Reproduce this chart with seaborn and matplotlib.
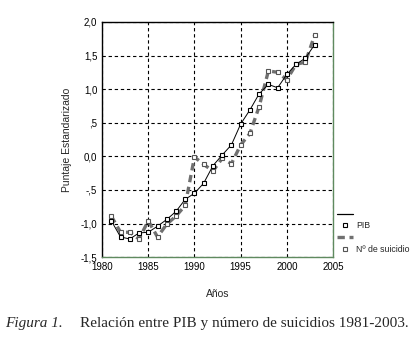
import pandas as pd
import seaborn as sns
import matplotlib.pyplot as plt
from matplotlib.lines import Line2D

# Values (standardised scores)
years = list(range(1981, 2004))
pib = [-0.96, -1.20, -1.23, -1.14, -1.13, -1.04, -0.94, -0.82, -0.64, -0.55,
       -0.40, -0.14, 0.02, 0.17, 0.48, 0.69, 0.93, 1.07, 1.02, 1.22,
       1.37, 1.46, 1.66]
suicidios = [-0.89, -1.13, -1.13, -1.23, -0.96, -1.20, -1.01, -0.89, -0.73, -0.01,
             -0.12, -0.22, -0.03, -0.11, 0.17, 0.34, 0.74, 1.27, 1.25, 1.14,
             1.37, 1.40, 1.80]
yticks = [-1.5, -1.0, -0.5, 0.0, 0.5, 1.0, 1.5, 2.0]
ytick_labels = ['-1,5', '-1,0', '-,5', '0,0', ',5', '1,0', '1,5', '2,0']
xticks = [1980, 1985, 1990, 1995, 2000, 2005]

df = pd.DataFrame({'Año': years, 'PIB': pib, 'Suicidios': suicidios})

sns.set_style('white')
plt.rcParams['font.family'] = ['Liberation Sans', 'DejaVu Sans']

fig = plt.figure(figsize=(4.2, 3.37), dpi=100)
ax = fig.add_axes([0.243, 0.237, 0.55, 0.698])

# dashed grey series (line first, markers on top)
sns.lineplot(data=df, x='Año', y='Suicidios', ax=ax, color='#707070',
             linewidth=2.4, zorder=2)
ax.lines[-1].set_dashes([2.2, 1.4])
sns.lineplot(data=df, x='Año', y='Suicidios', ax=ax, color='none',
             marker='s', markersize=3.0, markerfacecolor='white',
             markeredgecolor='#555555', markeredgewidth=0.8, zorder=3)
sns.lineplot(data=df, x='Año', y='PIB', ax=ax, color='black', linewidth=0.7,
             marker='s', markersize=3.0, markerfacecolor='white',
             markeredgecolor='black', markeredgewidth=0.8, zorder=4)

ax.set_xlim(1980, 2005)
ax.set_ylim(-1.5, 2.0)
ax.set_xticks(xticks)
ax.set_yticks(yticks)
ax.set_yticklabels(ytick_labels)
ax.tick_params(labelsize=7, length=2, width=0.8, pad=1.5, colors='black')
ax.grid(True, color='black', linestyle=(0, (3, 2.5)), linewidth=0.8)
for side in ['left', 'top']:
    ax.spines[side].set_color('black')
    ax.spines[side].set_linewidth(1.0)
for side in ['right', 'bottom']:
    ax.spines[side].set_color('#5f8a5f')
    ax.spines[side].set_linewidth(1.0)

ax.set_xlabel('Años', fontsize=7.5, labelpad=12)
ax.set_ylabel('Puntaje Estandarizado', fontsize=7.5, labelpad=6)

handles = [
    Line2D([], [], color='black', linewidth=0.9),
    Line2D([], [], linestyle='none', marker='s', markersize=3.0,
           markerfacecolor='white', markeredgecolor='black', markeredgewidth=0.8),
    Line2D([], [], color='#707070', linewidth=2.4, dashes=[2.2, 1.4]),
    Line2D([], [], linestyle='none', marker='s', markersize=3.0,
           markerfacecolor='white', markeredgecolor='#555555', markeredgewidth=0.8),
]
labels = ['', 'PIB', '', 'Nº de suicidio']
ax.legend(handles, labels, loc='lower left', bbox_to_anchor=(1.0, 0.0),
          frameon=False, fontsize=6.3, handlelength=1.9, handletextpad=0.3,
          labelspacing=0.3, borderaxespad=0.3, borderpad=0.1)

fig.text(0.012, 0.03, 'Figura 1.', fontsize=11, style='italic',
         family=['Liberation Serif', 'DejaVu Serif'])
fig.text(0.19, 0.03, 'Relación entre PIB y número de suicidios 1981-2003.',
         fontsize=11, family=['Liberation Serif', 'DejaVu Serif'])

fig.savefig('out.png', dpi=100)
